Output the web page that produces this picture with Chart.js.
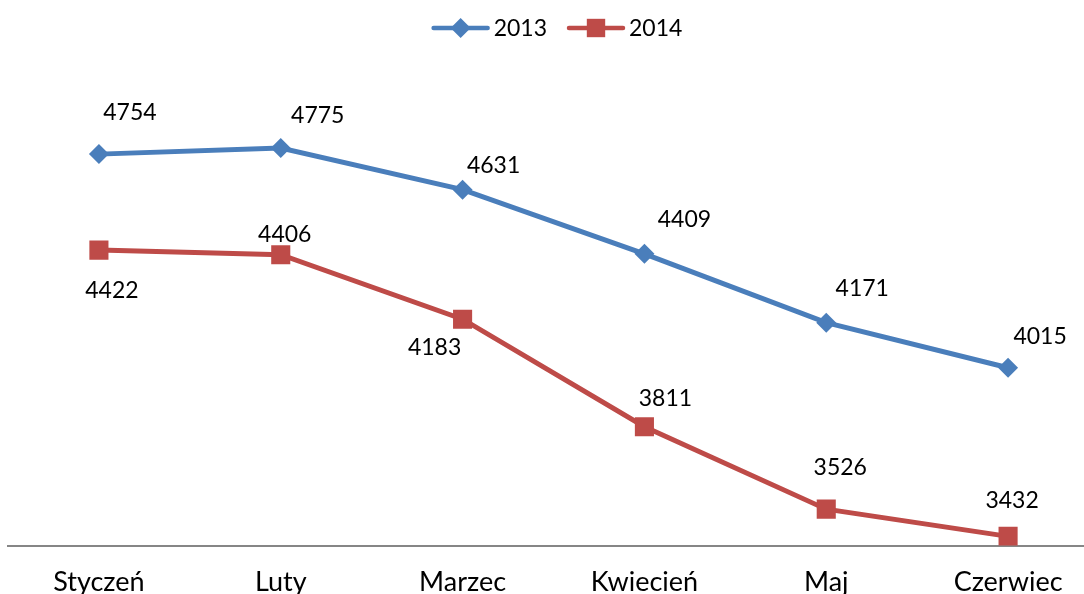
<!DOCTYPE html>
<html>
<head>
<meta charset="utf-8">
<title>2013 / 2014</title>
<script src="https://cdn.jsdelivr.net/npm/chart.js@4/dist/chart.umd.min.js"></script>
<style>
	html, body { margin: 0; padding: 0; background: #fff; overflow: hidden; }
	#lineChart { display: block; }
</style>
</head>
<body>
<canvas id="lineChart" width="1100" height="610"></canvas>
<script>
var months = ['Styczeń', 'Luty', 'Marzec', 'Kwiecień', 'Maj', 'Czerwiec'];
var values2013 = [4754, 4775, 4631, 4409, 4171, 4015];
var values2014 = [4422, 4406, 4183, 3811, 3526, 3432];
var yTicks = [3400, 5000];

// label offsets (px) from each point, as placed in the original
var labelShift2013 = [[31, -42], [37, -32], [31, -24], [40, -34], [36, -34], [32, -31]];
var labelShift2014 = [[13, 40], [4, -20], [-28, 28], [21, -28], [14, -42], [4, -36]];

(function () {
	'use strict';

	var FONT = 'Lato, "Open Sans", sans-serif';
	var BLUE = '#4A7EBB';
	var RED = '#BE4B48';

	var pointLabels = {
		id: 'pointLabels',
		afterDatasetsDraw: function (chart) {
			var ctx = chart.ctx;
			ctx.save();
			ctx.font = '23px ' + FONT;
			ctx.fillStyle = '#000';
			ctx.textAlign = 'center';
			ctx.textBaseline = 'middle';
			chart.data.datasets.forEach(function (ds, i) {
				var meta = chart.getDatasetMeta(i);
				meta.data.forEach(function (pt, j) {
					var sh = ds.labelShift[j];
					ctx.fillText(String(ds.data[j]), pt.x + sh[0], pt.y + sh[1]);
				});
			});
			ctx.restore();
		}
	};

	var lineLegend = {
		id: 'lineLegend',
		afterDraw: function (chart) {
			var ctx = chart.ctx;
			var lineLen = 54, gap = 6, itemGap = 22, y = 28;
			ctx.save();
			ctx.font = '23px ' + FONT;
			var items = chart.data.datasets.map(function (ds) {
				return { ds: ds, w: ctx.measureText(ds.label).width };
			});
			var total = 0;
			items.forEach(function (it, k) {
				total += lineLen + gap + it.w + (k ? itemGap : 0);
			});
			var x = 558 - total / 2;
			items.forEach(function (it) {
				ctx.strokeStyle = it.ds.borderColor;
				ctx.lineWidth = 4.5;
				ctx.lineCap = 'round';
				ctx.beginPath();
				ctx.moveTo(x, y);
				ctx.lineTo(x + lineLen, y);
				ctx.stroke();
				ctx.fillStyle = it.ds.borderColor;
				Chart.helpers.drawPoint(ctx, {
					pointStyle: it.ds.pointStyle,
					radius: it.ds.pointStyle === 'rect' ? 13 : 10,
					borderWidth: 0
				}, x + lineLen / 2, y);
				ctx.fillStyle = '#000';
				ctx.textAlign = 'left';
				ctx.textBaseline = 'middle';
				ctx.fillText(it.ds.label, x + lineLen + gap, y + 1);
				x += lineLen + gap + it.w + itemGap;
			});
			ctx.restore();
		}
	};

	new Chart(document.getElementById('lineChart'), {
		type: 'line',
		data: {
			labels: months,
			datasets: [{
				label: '2013',
				data: values2013,
				labelShift: labelShift2013,
				borderColor: BLUE,
				backgroundColor: BLUE,
				borderWidth: 5,
				pointStyle: 'rectRot',
				pointRadius: 10,
				pointBorderWidth: 0,
				tension: 0
			}, {
				label: '2014',
				data: values2014,
				labelShift: labelShift2014,
				borderColor: RED,
				backgroundColor: RED,
				borderWidth: 5,
				pointStyle: 'rect',
				pointRadius: 13.5,
				pointBorderWidth: 0,
				tension: 0
			}]
		},
		options: {
			responsive: false,
			animation: false,
			layout: {
				autoPadding: false,
				padding: { top: 83, left: 8, right: 1, bottom: 0 }
			},
			plugins: {
				legend: { display: false },
				tooltip: { enabled: false }
			},
			scales: {
				x: {
					offset: true,
					grid: { display: false },
					border: { display: true, color: '#868686', width: 2 },
					ticks: {
						color: '#000',
						font: { family: FONT, size: 27 },
						padding: 12,
						maxRotation: 0,
						autoSkip: false
					}
				},
				y: {
					display: false,
					min: yTicks[0],
					max: yTicks[yTicks.length - 1]
				}
			}
		},
		plugins: [pointLabels, lineLegend]
	});
})();
</script>
</body>
</html>
